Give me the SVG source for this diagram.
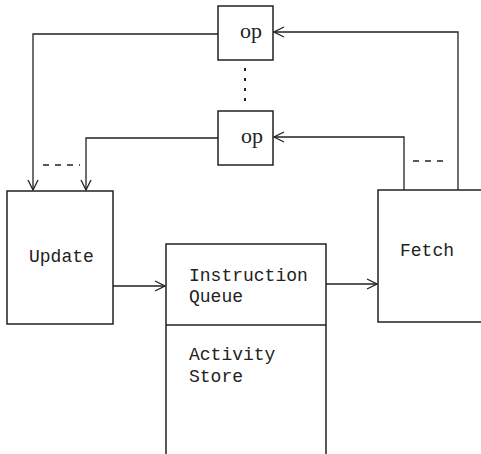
<svg xmlns="http://www.w3.org/2000/svg" width="481" height="454" viewBox="0 0 481 454">
<defs>
<style>
.box{fill:none;stroke:#222;stroke-width:1.5}
.ln{fill:none;stroke:#222;stroke-width:1.3}
.dash{fill:none;stroke:#222;stroke-width:1.3;stroke-dasharray:6,6}
.dot{fill:none;stroke:#222;stroke-width:2;stroke-dasharray:3,7}
.mono{font-family:"Liberation Mono","Courier New",monospace;font-size:18px;fill:#222}
.serif{font-family:"Liberation Serif","Times New Roman",serif;font-size:22px;fill:#222}
</style>
<marker id="ah" viewBox="0 0 12 12" refX="11" refY="6" markerWidth="12" markerHeight="12" markerUnits="userSpaceOnUse" orient="auto">
<path d="M1,1 L11,6 L1,11" fill="none" stroke="#222" stroke-width="1.3"/>
</marker>
</defs>
<rect width="481" height="454" fill="#fff"/>
<g id="connectors">
<polyline class="ln" points="218,34 33,34 33,190" marker-end="url(#ah)"/>
<polyline class="ln" points="218,138 86,138 86,190" marker-end="url(#ah)"/>
<line class="dash" x1="43" y1="165" x2="80" y2="165"/>
<polyline class="ln" points="458,190 458,32 274,32" marker-end="url(#ah)"/>
<polyline class="ln" points="404,190 404,137 274,137" marker-end="url(#ah)"/>
<line class="dash" x1="413" y1="161" x2="445" y2="161"/>
<line class="dot" x1="245" y1="68" x2="245" y2="107"/>
<line class="ln" x1="113" y1="286" x2="165" y2="286" marker-end="url(#ah)"/>
<line class="ln" x1="326" y1="284" x2="377" y2="284" marker-end="url(#ah)"/>
</g>
<g id="op1">
<rect class="box" x="218" y="6" width="55" height="54"/>
<text class="serif" x="240" y="38">op</text>
</g>
<g id="op2">
<rect class="box" x="218" y="111" width="55" height="54"/>
<text class="serif" x="241" y="143">op</text>
</g>
<g id="update">
<rect class="box" x="7" y="191" width="106" height="133"/>
<text class="mono" x="29" y="262">Update</text>
</g>
<g id="queue">
<path class="box" d="M166,454 L166,244 L326,244 L326,454 M166,325 L326,325"/>
<text class="mono" x="189" y="281">Instruction</text>
<text class="mono" x="189" y="302">Queue</text>
<text class="mono" x="189" y="360">Activity</text>
<text class="mono" x="189" y="382">Store</text>
</g>
<g id="fetch">
<path class="box" d="M482,190 L378,190 L378,322 L482,322"/>
<text class="mono" x="400" y="256">Fetch</text>
</g>
</svg>
